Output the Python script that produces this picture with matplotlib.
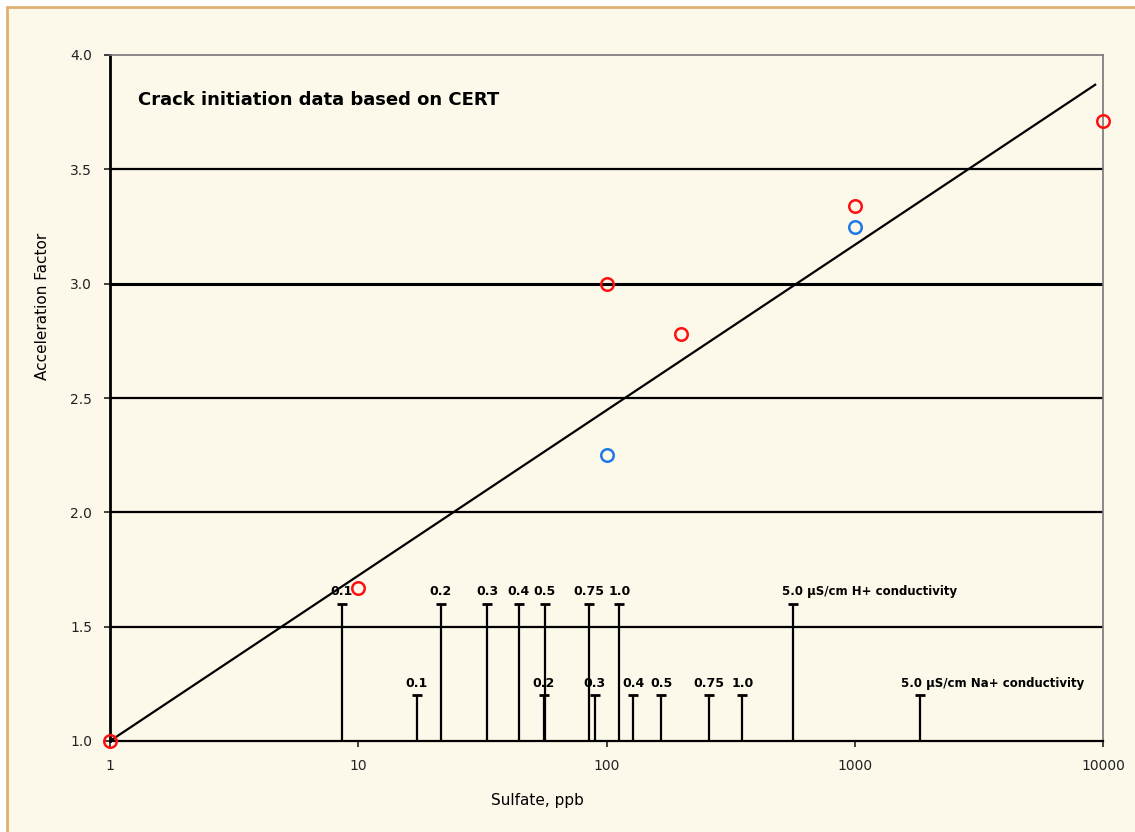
import numpy as np
import matplotlib.pyplot as plt
from matplotlib.patches import Rectangle

plt.rcParams["font.family"] = ["DejaVu Sans"]

# 데이터
red_x = [1, 10, 100, 200, 1000, 10000]
red_y = [1.0, 1.67, 3.0, 2.78, 3.34, 3.71]
blue_x = [100, 1000]
blue_y = [2.25, 3.25]

trend_x = [1, 9300]
trend_y = [1.0, 3.87]

# H+ conductivity 기준 sulfate 농도
h_labels = ["0.1", "0.2", "0.3", "0.4", "0.5", "0.75", "1.0", "5.0 µS/cm H+ conductivity"]
h_sulfate = [8.6, 21.5, 33.0, 44.4, 56.5, 84.8, 112.6, 564]
h_level = 1.6

# Na+ conductivity 기준 sulfate 농도
na_labels = ["0.1", "0.2", "0.3", "0.4", "0.5", "0.75", "1.0", "5.0 µS/cm Na+ conductivity"]
na_sulfate = [17.2, 56.0, 89.6, 127.9, 165.8, 258.8, 353, 1831]
na_level = 1.2

y_ticks = [1.0, 1.5, 2.0, 2.5, 3.0, 3.5, 4.0]
x_ticks = [1, 10, 100, 1000, 10000]

bg = "#FCF8EA"
fig = plt.figure(figsize=(11.35, 8.32), dpi=100, facecolor="white")
fig.patches.append(Rectangle((7 / 1135, -0.1), 1.2, 1 - 7 / 832 + 0.1,
                             transform=fig.transFigure, facecolor=bg,
                             edgecolor="#E0B070", linewidth=2, zorder=-10))

ax = fig.add_axes([110 / 1135, 1 - 741 / 832, 993 / 1135, 686 / 832])
ax.set_facecolor(bg)
ax.set_xscale("log")
ax.set_xlim(1, 10000)
ax.set_ylim(1.0, 4.0)

# 가로 격자선
for yv in y_ticks[1:-1]:
    ax.axhline(yv, color="black", lw=2.2 if yv == 3.0 else 1.6, zorder=1)

# 추세선
ax.plot(trend_x, trend_y, color="black", lw=1.6, zorder=2)

# 전도도 기준선
ax.vlines(h_sulfate, 1.0, h_level, color="black", lw=1.6, zorder=2)
ax.plot(h_sulfate, [h_level] * len(h_sulfate), ls="none", marker="_", ms=7, mew=2, color="black")
ax.vlines(na_sulfate, 1.0, na_level, color="black", lw=1.6, zorder=2)
ax.plot(na_sulfate, [na_level] * len(na_sulfate), ls="none", marker="_", ms=7, mew=2, color="black")

for lab, xv in zip(h_labels, h_sulfate):
    if len(lab) > 4:
        ax.annotate(lab, (xv, h_level), xytext=(-8, 4), textcoords="offset points",
                    ha="left", va="bottom", fontsize=8.5, fontweight="bold")
    else:
        ax.annotate(lab, (xv, h_level), xytext=(0, 4), textcoords="offset points",
                    ha="center", va="bottom", fontsize=9, fontweight="bold")
for lab, xv in zip(na_labels, na_sulfate):
    if len(lab) > 4:
        ax.annotate(lab, (xv, na_level), xytext=(-14, 4), textcoords="offset points",
                    ha="left", va="bottom", fontsize=8.5, fontweight="bold")
    else:
        ax.annotate(lab, (xv, na_level), xytext=(0, 4), textcoords="offset points",
                    ha="center", va="bottom", fontsize=9, fontweight="bold")

# 데이터 점
ax.plot(red_x, red_y, ls="none", marker="o", ms=9, mfc="none", mec="#FF1010", mew=1.8,
        zorder=5, clip_on=False)
ax.plot(blue_x, blue_y, ls="none", marker="o", ms=9, mfc="none", mec="#1E78E8", mew=1.8,
        zorder=5, clip_on=False)

ax.text(138 / 1135, 1 - 100 / 832, "Crack initiation data based on CERT", transform=fig.transFigure,
        fontsize=13, fontweight="bold", va="center", ha="left")

ax.set_xticks(x_ticks)
ax.set_xticklabels([str(v) for v in x_ticks])
ax.xaxis.set_minor_locator(plt.NullLocator())
ax.set_yticks(y_ticks)
ax.set_yticklabels([f"{v:.1f}" for v in y_ticks])
ax.tick_params(axis="both", labelsize=10, length=4, width=1.2, direction="out", colors="#222222")
ax.tick_params(axis="x", pad=9)
ax.tick_params(axis="y", pad=9)

ax.spines["left"].set_linewidth(2)
ax.spines["bottom"].set_linewidth(1.6)
for s in ["top", "right"]:
    ax.spines[s].set_color("#777777")
    ax.spines[s].set_linestyle((0, (2, 1)))
    ax.spines[s].set_linewidth(1.2)

ax.set_xlabel("Sulfate, ppb", fontsize=11, labelpad=14, x=0.43)
ax.set_ylabel("Acceleration Factor", fontsize=11, labelpad=14, y=0.633)

fig.savefig("out.png", dpi=100, facecolor=fig.get_facecolor())
